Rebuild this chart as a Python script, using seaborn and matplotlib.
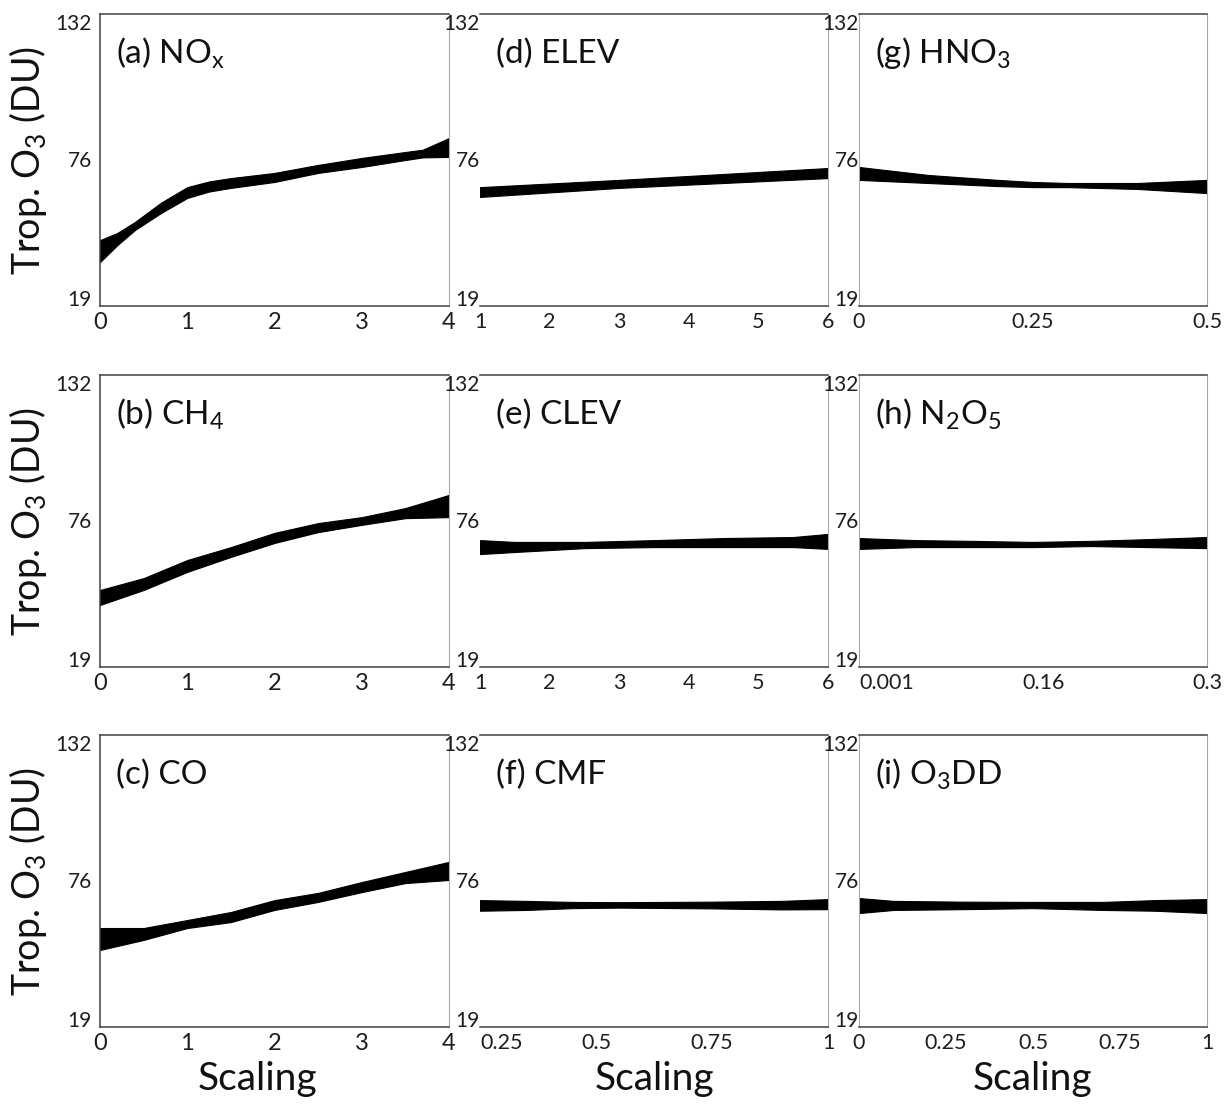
import numpy as np
import pandas as pd
import matplotlib
matplotlib.use("Agg")
import matplotlib.pyplot as plt
import seaborn as sns

# band limits (lower / upper envelope of the ensemble)
NOX_X = [0, 0.2, 0.4, 0.7, 1, 1.25, 1.5, 2, 2.5, 3, 3.5, 3.7, 4]
NOX_LO = [36.0, 42.6, 48.4, 55.0, 60.8, 63.3, 64.7, 67.0, 70.5, 72.8, 75.5, 76.5, 76.7]
NOX_HI = [44.5, 47.3, 51.5, 59.0, 65.0, 67.2, 68.5, 70.5, 73.6, 76.3, 78.6, 79.5, 84.0]

CH4_X = [0, 0.5, 1, 1.5, 2, 2.5, 3, 3.5, 4]
CH4_LO = [43.0, 48.8, 55.8, 61.6, 67.0, 71.2, 74.0, 76.6, 77.0]
CH4_HI = [48.8, 53.4, 60.4, 65.4, 70.9, 74.7, 77.0, 80.5, 85.6]

CO_X = [0, 0.5, 1, 1.5, 2, 2.5, 3, 3.5, 4]
CO_LO = [48.8, 52.7, 57.3, 59.6, 64.3, 67.4, 71.2, 74.7, 75.9]
CO_HI = [57.3, 57.3, 60.4, 63.5, 68.1, 70.9, 75.1, 79.0, 82.9]

ELEV_X = [1, 3, 4.5, 6]
ELEV_LO = [61.2, 64.7, 66.6, 68.5]
ELEV_HI = [65.0, 67.8, 70.1, 72.4]

CLEV_X = [1, 1.5, 2.5, 3.5, 4.5, 5.5, 6]
CLEV_LO = [62.7, 63.5, 65.0, 65.4, 65.4, 65.4, 64.7]
CLEV_HI = [68.1, 67.4, 67.4, 68.1, 68.9, 69.3, 70.5]

CMF_X = [0.25, 0.35, 0.45, 0.55, 0.75, 0.9, 1]
CMF_LO = [64.0, 64.3, 65.0, 65.2, 64.9, 64.5, 64.6]
CMF_HI = [68.1, 67.8, 67.4, 67.3, 67.5, 67.8, 68.5]

HNO3_X = [0, 0.1, 0.2, 0.25, 0.3, 0.4, 0.5]
HNO3_LO = [67.8, 66.6, 65.4, 65.0, 65.0, 64.3, 62.7]
HNO3_HI = [72.8, 69.7, 67.8, 67.0, 66.6, 66.6, 67.8]

N2O5_X = [0.001, 0.05, 0.1, 0.15, 0.2, 0.25, 0.3]
N2O5_LO = [64.7, 65.4, 65.4, 65.4, 65.8, 65.4, 65.0]
N2O5_HI = [68.9, 68.1, 67.8, 67.4, 67.8, 68.5, 69.3]

O3DD_X = [0, 0.1, 0.3, 0.5, 0.7, 0.85, 1]
O3DD_LO = [63.1, 64.3, 64.6, 65.0, 64.3, 64.0, 63.1]
O3DD_HI = [68.9, 67.8, 67.5, 67.4, 67.4, 68.1, 68.5]

Y_TICKS = [19, 76, 132]

TICKS_04 = [0, 1, 2, 3, 4]
TICKS_16 = [1, 2, 3, 4, 5, 6]
TICKS_CMF = [0.25, 0.5, 0.75, 1]
LABELS_CMF = ["0.25", "0.5", "0.75", "1"]
TICKS_HNO3 = [0, 0.25, 0.5]
LABELS_HNO3 = ["0", "0.25", "0.5"]
TICKS_N2O5 = [0.001, 0.16, 0.3]
LABELS_N2O5 = ["0.001", "0.16", "0.3"]
TICKS_O3DD = [0, 0.25, 0.5, 0.75, 1]
LABELS_O3DD = ["0", "0.25", "0.5", "0.75", "1"]

TITLES = [r"(a) NO$_\mathregular{x}$", r"(b) CH$_\mathregular{4}$", "(c) CO",
          "(d) ELEV", "(e) CLEV", "(f) CMF",
          r"(g) HNO$_\mathregular{3}$", r"(h) N$_\mathregular{2}$O$_\mathregular{5}$",
          r"(i) O$_\mathregular{3}$DD"]

sns.set_theme(style="white")
plt.rcParams["font.family"] = ["Lato", "DejaVu Sans"]
plt.rcParams["mathtext.fontset"] = "custom"
plt.rcParams["mathtext.rm"] = "Lato"

# column-major order: a b c / d e f / g h i
panels = [
    (NOX_X, NOX_LO, NOX_HI, TICKS_04, [str(t) for t in TICKS_04]),
    (CH4_X, CH4_LO, CH4_HI, TICKS_04, [str(t) for t in TICKS_04]),
    (CO_X, CO_LO, CO_HI, TICKS_04, [str(t) for t in TICKS_04]),
    (ELEV_X, ELEV_LO, ELEV_HI, TICKS_16, [str(t) for t in TICKS_16]),
    (CLEV_X, CLEV_LO, CLEV_HI, TICKS_16, [str(t) for t in TICKS_16]),
    (CMF_X, CMF_LO, CMF_HI, TICKS_CMF, LABELS_CMF),
    (HNO3_X, HNO3_LO, HNO3_HI, TICKS_HNO3, LABELS_HNO3),
    (N2O5_X, N2O5_LO, N2O5_HI, TICKS_N2O5, LABELS_N2O5),
    (O3DD_X, O3DD_LO, O3DD_HI, TICKS_O3DD, LABELS_O3DD),
]

W, H = 1225, 1109
fig = plt.figure(figsize=(W / 100, H / 100), dpi=100)

col_left = [100, 480, 859]
col_width = [349, 348, 348]
row_top = [14, 375, 735]
ax_h = 292

dark = "#404040"
light = "#a8a8a8"
txt = "#1e1e1e"

for i, (xs, lo, hi, ticks, labels) in enumerate(panels):
    col, row = i // 3, i % 3
    rect = [col_left[col] / W, 1 - (row_top[row] + ax_h) / H,
            col_width[col] / W, ax_h / H]
    ax = fig.add_axes(rect)

    df = pd.DataFrame({"x": list(xs) * 2, "y": list(lo) + list(hi)})
    sns.lineplot(data=df, x="x", y="y", estimator="mean", errorbar=("pi", 100),
                 color="black", lw=1, err_kws={"alpha": 1, "linewidth": 0.8,
                                               "edgecolor": "black"}, ax=ax)

    ax.set_xlim(min(xs), max(xs))
    ax.set_ylim(19, 132)
    ax.set_xticks(ticks)
    ax.set_xticklabels(labels)
    ax.set_yticks(Y_TICKS)
    ax.set_yticklabels([str(t) for t in Y_TICKS])
    ax.set_xlabel("")
    ax.set_ylabel("")

    ax.tick_params(axis="x", length=0, pad=4, labelsize=17 if col == 0 else 15.5,
                   labelcolor=txt)
    ax.tick_params(axis="y", length=0, pad=6 if col == 0 else 0,
                   labelsize=15, labelcolor=txt)
    ylabs = ax.get_yticklabels()
    ylabs[0].set_va("baseline")
    ylabs[-1].set_va("top")
    if i in (5, 7):
        ax.get_xticklabels()[0].set_ha("left")

    ax.spines["top"].set_color(dark)
    ax.spines["bottom"].set_color(dark)
    ax.spines["top"].set_linewidth(1.1)
    ax.spines["bottom"].set_linewidth(1.1)
    ax.spines["right"].set_color(light)
    ax.spines["right"].set_linewidth(0.8)
    if col == 0:
        ax.spines["left"].set_color(dark)
        ax.spines["left"].set_linewidth(1.1)
    elif col == 1:
        ax.spines["left"].set_visible(False)
    else:
        ax.spines["left"].set_color(light)
        ax.spines["left"].set_linewidth(0.8)

    ax.text(0.046, 0.832, TITLES[i], transform=ax.transAxes, ha="left",
            va="baseline", fontsize=24, color="#111111")

    if col == 0:
        ax.text(-0.205, 0.5, r"Trop. O$_\mathregular{3}$ (DU)", transform=ax.transAxes,
                rotation=90, ha="center", va="center", fontsize=27, color="#111111")
    if row == 2:
        ax.text(0.5 if col else 0.45, -0.216, "Scaling", transform=ax.transAxes,
                ha="center", va="baseline", fontsize=28, color="#111111")

fig.savefig("out.png", dpi=100, facecolor="white")
